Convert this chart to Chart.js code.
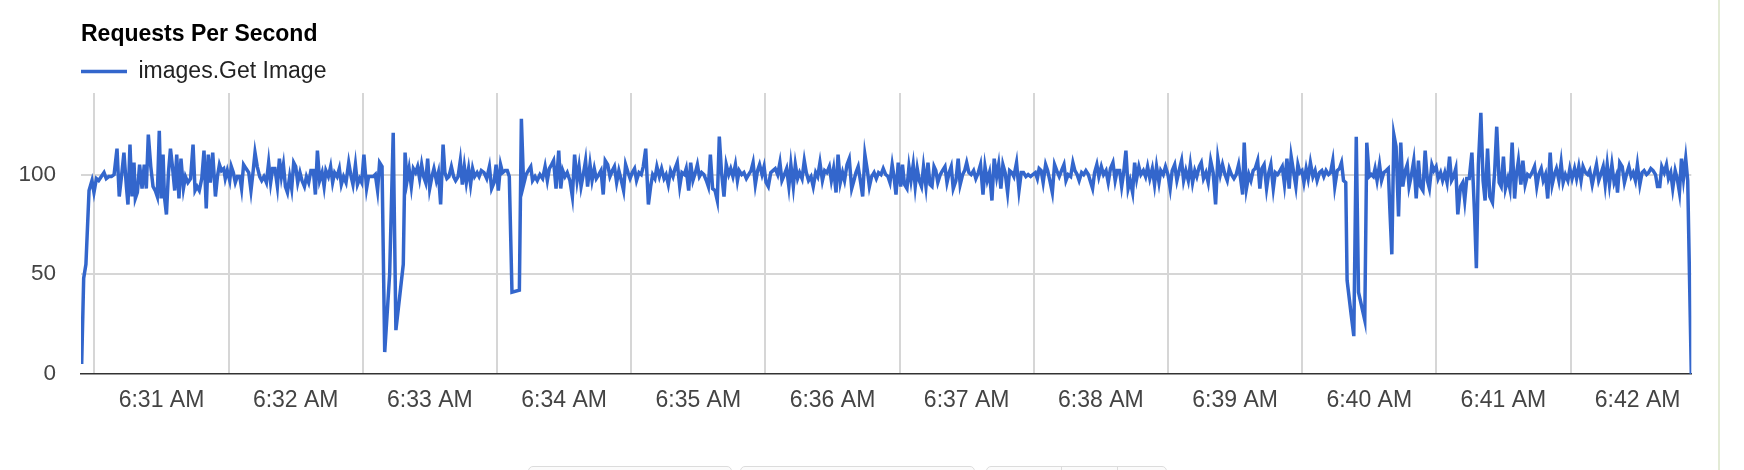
<!DOCTYPE html>
<html>
<head>
<meta charset="utf-8">
<title>Requests Per Second</title>
<script src="https://cdn.jsdelivr.net/npm/chart.js@4.4.1/dist/chart.umd.min.js"></script>
<style>
  html, body { margin: 0; padding: 0; background: #fff; }
  #wrap { position: relative; width: 1744px; height: 470px; overflow: hidden; }
  #chart { position: absolute; left: 0; top: 0; }
  #side { position: absolute; left: 1718px; top: 0; width: 2px; height: 470px; background: #e3ebd6; }
  .btn { position: absolute; top: 466px; height: 14px; border: 1px solid #dcdcdc; border-radius: 5px; background: #fbfbfb; box-sizing: border-box; }
  .sep { position: absolute; top: 466px; width: 1px; height: 14px; background: #dcdcdc; }
</style>
</head>
<body>
<div id="wrap">
  <canvas id="chart" width="1744" height="470"></canvas>
  <div id="side"></div>
  <div class="btn" style="left:528px;width:204px"></div>
  <div class="btn" style="left:740px;width:235px"></div>
  <div class="btn" style="left:986px;width:181px"></div>
  <div class="sep" style="left:1061px"></div>
  <div class="sep" style="left:1117px"></div>
</div>
<script>
// requests per second for images.Get Image
// times are seconds after 6:30:00 AM
const chartTitle = 'Requests Per Second';
const seriesName = 'images.Get Image';

const tickLabels = ['6:31 AM', '6:32 AM', '6:33 AM', '6:34 AM', '6:35 AM', '6:36 AM',
  '6:37 AM', '6:38 AM', '6:39 AM', '6:40 AM', '6:41 AM', '6:42 AM'];
const labelSeconds = [60, 120, 180, 240, 300, 360, 420, 480, 540, 600, 660, 720];
const gridSeconds = [30, 90, 150, 210, 270, 330, 390, 450, 510, 570, 630, 690];
const yTicks = [0, 50, 100];

const times = [
  // 6:30:24 - 6:33:25
  24.3,25.2,26.2,27.6,28.9,29.8,30.9,31.9,33.1,34.3,
  35.3,36.4,37.6,38.8,40.1,41.1,42.2,43.2,44.3,45.0,
  45.9,46.8,47.7,48.3,49.2,50.2,51.3,52.3,53.2,54.1,
  55.2,56.2,57.2,58.1,59.0,59.8,60.7,61.3,62.2,63.1,
  64.0,64.8,65.9,66.8,67.8,68.7,69.8,70.7,71.8,73.0,
  74.1,75.0,75.9,76.9,78.0,79.0,80.0,80.9,81.8,82.9,
  84.1,85.0,85.9,86.8,87.8,88.5,89.4,90.5,91.2,92.1,
  93.0,93.9,95.0,95.8,96.7,97.8,99.0,100.0,100.9,101.8,
  102.8,103.9,104.8,105.8,106.9,107.9,108.8,109.7,110.7,111.8,
  112.7,113.6,114.5,115.4,116.3,117.3,118.2,119.1,120.0,120.9,
  121.9,122.8,123.9,124.8,125.8,126.8,127.9,128.8,129.7,130.7,
  131.8,132.7,133.5,134.6,135.6,136.5,137.4,138.5,139.5,140.4,
  141.4,142.5,143.7,144.6,145.6,146.7,147.6,148.6,149.5,150.5,
  151.7,152.6,153.7,154.7,155.6,156.6,157.5,158.6,159.8,162.0,
  163.6,164.8,167.2,168.1,168.9,169.8,170.7,171.7,172.6,173.6,
  174.5,175.4,176.3,177.2,178.1,179.0,179.9,180.9,181.8,182.9,
  183.8,184.8,185.9,186.7,187.6,188.5,189.6,190.6,191.5,192.6,
  193.6,194.5,195.4,196.3,197.3,198.2,199.1,200.0,201.1,202.0,
  203.0,204.2,205.4,
  // 6:33:26 - 6:36:25
  206.6,207.6,208.7,209.6,210.6,211.6,212.5,213.6,214.6,215.5,
  216.7,220.0,220.9,221.9,223.0,224.0,225.1,225.9,227.0,228.0,
  229.2,230.4,231.5,232.5,233.4,234.4,235.3,236.4,237.6,238.5,
  239.4,240.4,241.4,242.6,243.7,244.7,245.8,246.7,247.6,248.6,
  249.6,250.5,251.6,252.5,253.5,254.4,255.5,256.5,257.5,258.4,
  259.5,260.5,261.6,262.5,263.5,264.5,265.4,266.6,267.5,268.6,
  269.5,270.5,271.5,272.4,273.5,274.5,275.4,276.5,277.7,278.7,
  279.6,280.6,281.5,282.6,283.6,284.7,285.6,286.6,287.6,288.7,
  289.6,290.6,291.7,292.7,293.8,294.6,295.7,296.6,297.6,298.7,
  299.6,300.5,301.5,302.5,303.6,304.5,305.4,306.4,307.5,308.5,
  309.4,310.4,311.5,312.5,313.6,314.5,315.5,316.6,317.5,318.3,
  319.4,320.4,321.5,322.5,323.6,324.5,325.5,326.5,327.4,328.5,
  329.4,330.3,331.3,332.4,333.4,334.4,335.5,336.5,337.4,338.5,
  339.5,340.5,341.4,342.5,343.4,344.4,345.3,346.4,347.4,348.3,
  349.3,350.4,351.4,352.5,353.4,354.4,355.5,356.5,357.5,358.6,
  359.5,360.5,361.6,362.5,363.5,364.5,365.4,366.5,367.5,368.6,
  369.6,370.5,371.5,372.6,373.5,374.5,375.6,376.5,377.5,378.6,
  379.6,380.6,381.7,382.7,383.8,384.8,
  // 6:36:26 - 6:39:25
  385.7,386.7,387.5,388.4,389.4,390.5,391.3,392.2,393.3,394.2,
  395.1,396.1,397.0,397.9,398.8,399.8,400.7,401.8,402.7,403.6,
  404.5,405.4,406.2,407.1,408.2,409.2,410.3,411.2,412.2,413.1,
  414.0,415.2,416.2,417.1,418.2,419.1,420.0,421.0,422.0,423.1,
  424.1,425.2,426.2,427.3,428.2,429.2,430.2,431.3,432.3,433.4,
  434.3,435.3,436.2,437.2,438.3,439.2,440.2,441.1,442.3,443.4,
  444.4,445.4,446.5,447.5,448.6,449.6,450.7,451.6,452.4,453.3,
  454.2,455.3,456.2,457.2,458.3,459.3,460.3,461.4,462.4,463.5,
  464.4,465.4,466.5,467.5,468.4,469.4,470.3,471.4,472.3,473.3,
  474.4,475.2,476.3,477.2,478.2,479.1,480.2,481.2,482.3,483.3,
  484.3,485.4,486.4,487.3,488.4,489.3,490.2,491.2,492.2,493.1,
  494.2,495.1,496.0,497.0,497.9,499.0,500.0,500.9,501.9,503.0,
  504.0,504.9,506.0,506.8,507.9,508.9,510.0,511.0,511.9,513.0,
  514.0,515.0,516.1,517.0,518.0,519.1,520.0,521.0,522.0,522.9,
  524.0,524.9,525.9,527.0,528.0,529.1,530.2,531.3,532.3,533.4,
  534.4,535.5,536.5,537.4,538.4,539.5,540.5,541.6,542.6,543.4,
  544.1,545.1,546.2,547.1,548.1,549.0,550.1,551.1,552.0,553.0,
  554.1,555.1,556.0,557.1,558.0,559.0,560.1,561.1,562.1,563.2,
  564.2,565.1,
  // 6:39:27 - 6:42:24
  567.2,568.1,569.0,569.9,570.8,571.8,572.7,573.7,574.8,575.8,
  576.7,577.8,578.8,579.7,580.7,581.8,582.7,583.7,584.6,585.7,
  586.7,587.6,588.5,589.5,590.1,591.9,593.1,594.2,595.2,598.0,
  598.9,600.0,600.9,601.8,602.6,603.5,604.6,605.5,606.5,607.6,
  608.5,609.2,610.1,611.0,612.0,613.1,614.1,615.0,616.1,617.0,
  617.8,618.9,619.9,621.0,622.0,622.9,624.0,625.0,626.0,626.9,
  628.0,628.9,629.9,630.8,631.9,632.8,633.8,634.8,635.9,636.8,
  637.7,638.7,639.6,640.8,641.8,642.7,643.6,644.7,645.9,647.1,
  647.9,648.8,649.9,650.9,651.8,652.9,653.9,655.1,656.1,657.0,
  658.1,659.0,660.0,660.9,662.0,662.9,663.9,665.0,665.8,666.7,
  667.8,668.7,669.7,670.8,671.8,672.8,673.9,674.9,675.8,676.9,
  677.8,678.8,679.8,680.9,681.8,682.8,683.7,684.8,685.8,686.7,
  687.7,688.8,689.7,690.7,691.8,692.7,693.7,694.7,695.6,696.7,
  697.7,698.6,699.7,700.6,701.6,702.6,703.5,704.6,705.5,706.4,
  707.4,708.5,709.5,710.4,711.0,712.0,713.1,714.1,715.0,716.1,
  717.1,718.0,719.0,719.9,721.0,722.0,722.9,724.0,724.9,725.9,
  726.9,728.0,728.9,729.9,730.8,731.9,732.9,733.8,734.8,735.7,
  736.8,737.7,738.7,739.6,740.5,741.5,742.4,744.0
];

const rps = [
  5,48,55,92,97,91,98,97,99,101,
  98,99,99,100,113,89,100,111,94,85,
  115,89,106,88,91,105,93,105,93,120,
  104,94,92,89,122,88,110,89,80,101,
  113,105,92,110,88,108,93,99,96,98,
  115,92,94,92,98,112,83,110,96,111,
  89,99,105,102,103,98,102,97,104,101,
  96,99,99,93,105,103,101,92,101,111,
  104,99,97,99,96,106,96,103,103,94,
  108,99,105,94,91,99,93,106,104,96,
  101,97,94,99,96,102,102,90,112,97,
  101,94,102,99,104,96,101,99,103,95,
  99,96,106,100,95,105,95,98,96,110,
  93,99,99,99,100,92,106,104,11,50,
  121,22,46,55,111,97,103,94,103,101,
  104,98,105,99,96,108,93,99,103,97,
  101,85,115,101,98,99,104,99,97,99,
  107,95,104,96,103,95,103,99,101,99,
  102,101,98,

  104,93,96,105,92,105,101,102,102,99,
  41,42,128,95,100,102,104,97,99,97,
  100,98,104,97,103,105,107,93,112,93,
  102,99,101,97,89,110,97,104,94,100,
  107,94,105,97,103,98,100,102,90,107,
  105,99,102,104,96,102,98,92,105,101,
  98,101,103,97,101,100,104,113,85,94,
  100,98,104,99,103,98,100,95,102,99,
  103,106,94,101,100,103,92,106,97,101,
  105,99,101,100,97,94,110,93,92,87,
  119,101,89,105,100,103,99,105,97,102,
  100,101,98,100,102,106,95,102,105,100,
  104,96,94,101,102,103,100,106,97,100,
  103,94,105,94,105,98,101,98,107,101,
  97,99,94,101,99,106,97,102,101,104,
  97,103,91,110,96,101,97,105,108,93,
  97,101,104,96,89,110,102,94,99,101,
  98,101,100,103,100,99,

  96,105,99,90,106,94,105,95,93,104,
  97,105,94,103,97,94,104,94,106,95,
  94,104,102,96,100,102,104,96,101,104,
  93,97,108,95,100,102,106,101,100,102,
  98,101,105,90,104,97,101,87,108,99,
  105,93,105,101,91,102,101,99,106,92,
  101,101,99,100,99,100,101,98,103,102,
  96,105,102,97,91,105,102,99,102,105,
  97,100,99,106,102,100,97,101,100,102,
  100,97,93,101,105,99,104,100,102,96,
  103,106,97,102,102,94,101,112,93,97,
  91,106,98,104,100,102,99,104,98,103,
  95,104,96,102,100,104,100,93,102,105,
  97,102,107,97,102,97,105,96,102,99,
  104,106,98,101,96,107,101,85,108,100,
  105,100,97,103,100,98,100,105,97,90,
  116,93,100,97,102,103,107,93,103,105,
  93,101,105,93,101,100,102,104,95,108,
  93,109,

  94,105,101,102,96,103,98,106,99,102,
  97,101,102,99,102,100,101,107,94,102,
  103,106,97,96,47,30,19,119,41,27,
  116,99,100,99,103,97,105,97,101,102,
  103,83,60,120,114,79,116,94,102,105,
  94,100,107,88,107,94,92,112,97,93,
  105,102,104,98,101,97,101,96,109,97,
  99,103,80,94,96,87,98,98,111,80,
  53,105,131,97,87,113,89,86,102,124,
  96,94,109,93,98,93,116,88,100,107,
  95,107,95,100,99,101,104,94,100,103,
  97,100,88,111,95,100,103,97,106,96,
  100,97,103,98,103,98,104,97,104,101,
  100,102,95,100,105,97,100,104,95,105,
  95,105,96,99,91,106,104,96,100,104,
  99,101,97,105,95,101,102,100,101,103,
  102,100,94,94,104,101,105,98,101,93,
  102,98,91,108,98,108,97,0
];

const fontFamily = '"Liberation Sans", Arial, sans-serif';
const blue = '#3366cc';

const points = times.map((t, i) => ({ x: t, y: rps[i] }));

const ctx = document.getElementById('chart');

new Chart(ctx, {
  type: 'line',
  data: {
    datasets: [{
      label: seriesName,
      data: points,
      borderColor: blue,
      backgroundColor: blue,
      borderWidth: 3.5,
      pointRadius: 0,
      tension: 0,
      fill: false
    }]
  },
  options: {
    responsive: false,
    animation: false,
    devicePixelRatio: 1,
    layout: { padding: { left: 0, right: 52.7, top: 0, bottom: 42.4 } },
    plugins: {
      title: {
        display: true,
        text: chartTitle,
        align: 'start',
        fullSize: false,
        color: '#000',
        font: { family: fontFamily, size: 23, weight: 'bold' },
        padding: { top: 21, bottom: 11.4 }
      },
      legend: {
        display: true,
        align: 'start',
        fullSize: false,
        labels: {
          usePointStyle: true,
          pointStyle: 'line',
          pointStyleWidth: 46,
          padding: 0,
          color: '#222',
          font: { family: fontFamily, size: 23 }
        }
      },
      tooltip: { enabled: false }
    },
    scales: {
      x: {
        type: 'linear',
        min: 24,
        max: 744,
        afterBuildTicks: (axis) => {
          axis.ticks = gridSeconds.concat(labelSeconds)
            .sort((a, b) => a - b)
            .map(v => ({ value: v }));
        },
        ticks: {
          autoSkip: false,
          maxRotation: 0,
          padding: 13,
          color: '#444',
          font: { family: fontFamily, size: 23 },
          callback: (value) => {
            const i = labelSeconds.indexOf(value);
            return i >= 0 ? tickLabels[i] : '';
          }
        },
        grid: {
          drawTicks: false,
          lineWidth: 2,
          color: (c) => (c.tick && gridSeconds.includes(c.tick.value)) ? '#d6d6d6' : 'rgba(0,0,0,0)'
        },
        border: { display: true, color: '#333', width: 1.5 }
      },
      y: {
        min: 0,
        max: 140.9,
        afterBuildTicks: (axis) => {
          axis.ticks = yTicks.map(v => ({ value: v }));
        },
        afterFit: (axis) => { axis.width = 81; },
        ticks: {
          padding: 25,
          color: '#444',
          font: { family: fontFamily, size: 22.5 }
        },
        grid: {
          drawTicks: false,
          lineWidth: 2,
          color: (c) => (c.tick && c.tick.value === 0) ? 'rgba(0,0,0,0)' : '#d6d6d6'
        },
        border: { display: false }
      }
    }
  }
});
</script>
</body>
</html>
